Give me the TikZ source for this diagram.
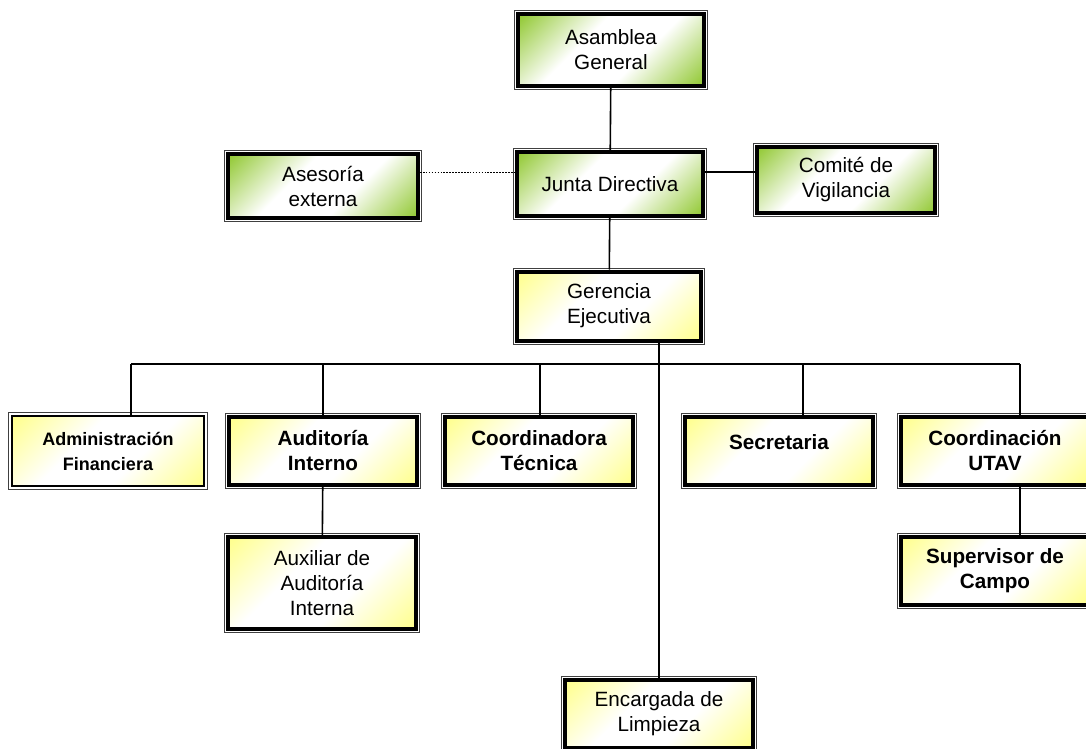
\documentclass[tikz,border=0pt]{standalone}
\usepackage{fontspec}
\setmainfont{Liberation Sans}
\definecolor{verdeclaro}{RGB}{145,200,50}
\definecolor{amarillo}{RGB}{255,255,140}
\pgfdeclareverticalshading{verdediag}{100bp}{color(0bp)=(verdeclaro); color(15bp)=(verdeclaro); color(40bp)=(white); color(60bp)=(white); color(85bp)=(verdeclaro); color(100bp)=(verdeclaro)}
\pgfdeclareverticalshading{amarillodiag}{100bp}{color(0bp)=(amarillo); color(15bp)=(amarillo); color(40bp)=(white); color(60bp)=(white); color(85bp)=(amarillo); color(100bp)=(amarillo)}

\begin{document}
\begin{tikzpicture}[x=0.75pt,y=-0.75pt]
\tikzset{
  caja/.style={minimum width=141pt, minimum height=51pt, align=center,
    font=\fontsize{15.5}{18.75}\selectfont, draw=black, line width=3pt,
    preaction={draw=black!75, line width=6pt},
    preaction={draw=white, line width=4.5pt}},
  verde/.style={caja, shading=verdediag, shading angle=45},
  amarilla/.style={caja, shading=amarillodiag, shading angle=45},
  negrita/.style={font=\fontsize{15.5}{18.75}\selectfont\bfseries},
  linea/.style={draw=black, line width=1.2pt}
}
\useasboundingbox (0,0) rectangle (1086,749);

% organos de gobierno
\node[verde, minimum width=139pt, minimum height=54pt] (asam) at (611,50) {Asamblea\\General};
\node[verde, minimum width=140pt, minimum height=48pt] (junta) at (610,184) {Junta Directiva};
\node[verde, minimum width=142.5pt, minimum height=48pt] (ases) at (323,186) {Asesoría\\externa};
\node[verde, minimum width=134pt, minimum height=50pt] (comite) at (846,180) {Comité de\\Vigilancia};
\node[amarilla, minimum width=138pt, minimum height=51.75pt] (ger) at (609,306) {Gerencia\\Ejecutiva};

% unidades
\node[amarilla, negrita, draw=black, line width=0.8pt, preaction={draw=none}, minimum width=144pt, minimum height=52.5pt,
  font=\fontsize{13.5}{18.75}\selectfont\bfseries] (adm) at (108,451) {Administración\\Financiera};
\node[amarilla, negrita] (aud) at (323,451) {Auditoría\\Interno};
\node[amarilla, negrita] (coo) at (539,451) {Coordinadora\\Técnica};
\node[amarilla, negrita, text depth=14pt] (sec) at (779,451) {Secretaria};
\node[amarilla, negrita] (utav) at (995,451) {Coordinación\\UTAV};
\node[amarilla, minimum height=69pt] (aux) at (322,583) {Auxiliar de\\Auditoría\\Interna};
\node[amarilla, negrita] (sup) at (995,571) {Supervisor de\\Campo};
\node[amarilla] (enc) at (659,714) {Encargada de\\Limpieza};

% conectores
\coordinate (bus) at (660,364);
\draw[linea] (asam) -- (junta);
\draw[linea] (junta) -- (ger);
\draw[line width=1.2pt, densely dotted] ([yshift=10pt]ases.east) -- ([yshift=10pt]ases.east -| junta.west);
\draw[linea] ([yshift=9pt]junta.east) -- ([yshift=9pt]junta.east -| comite.west);
\draw[linea] (enc.north) -- (enc.north |- ger.south);
\draw[linea] (bus -| 131,0) -- (bus -| 1020,0);
\foreach \n/\x in {adm/131, aud/323, coo/540, sec/803, utav/1020}
  \draw[linea] (\n.north -| \x,0) -- (bus -| \x,0);
\draw[linea] (aud) -- (aux);
\draw[linea] (utav.south -| 1020,0) -- (sup.north -| 1020,0);
\end{tikzpicture}
\end{document}
